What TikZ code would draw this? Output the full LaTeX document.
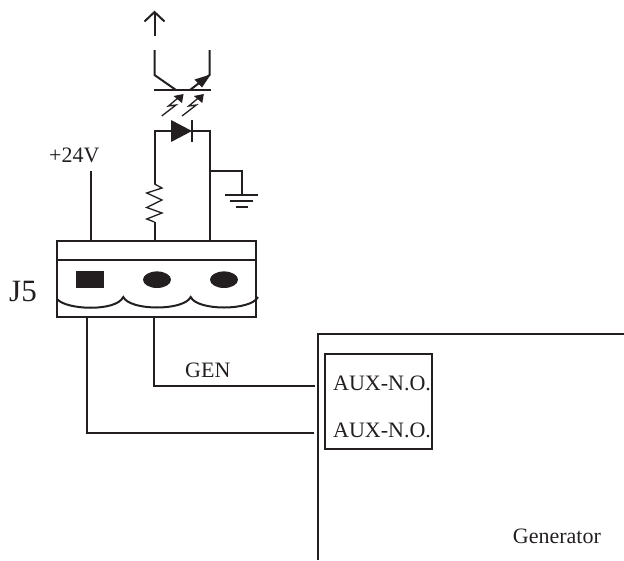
\documentclass[tikz,border=0pt]{standalone}
\usepackage{fontspec}
\setmainfont{Liberation Serif}
\usetikzlibrary{arrows.meta}
\definecolor{ink}{HTML}{231F20}
\tikzset{
  wire/.style={draw=ink,line width=2pt},
  thin wire/.style={draw=ink,line width=1.3pt},
  lab/.style={inner sep=0pt,text=ink,anchor=base west,font=\fontsize{#1}{#1}\selectfont},
  lab/.default=22
}
\begin{document}
\begin{tikzpicture}[x=1pt,y=-1pt]
\useasboundingbox (0,0) rectangle (624,560);
% named points
\coordinate (top) at (154.5,12);
\coordinate (topb) at (154.5,36);
\coordinate (tlu) at (154.5,50);
\coordinate (tlm) at (154.5,75);
\coordinate (tlb) at (176,90);
\coordinate (tru) at (209.5,50);
\coordinate (trm) at (209.5,75);
\coordinate (trb) at (190,90);
\coordinate (dl) at (171,131);
\coordinate (dr) at (192,131);
% output arrow
\draw[wire] (topb) -- (top);
\draw[wire] (144.5,21.5) -- (top) -- (164.5,21.5);
% transistor
\draw[wire] (tlu) -- (tlm) -- (tlb);
\draw[wire] (154,90) -- (210.5,90);
\draw[wire] (tru) -- (trm) -- (trb);
\fill[ink] (210.7,74.5) -- (194.5,79.5) -- (202,87.5) -- cycle;
% light arrows
\foreach \d in {0,20.3}{
  \draw[thin wire] (161.7+\d,116) -- (176+\d,105) -- (168.5+\d,106) -- (178+\d,98);
  \fill[ink] (183.5+\d,94) -- (173.5+\d,96) -- (182+\d,103) -- cycle;
}
% diode
\fill[ink] (171,120) -- (192,131) -- (171,142) -- cycle;
\draw[wire] (192,120) -- (192,142);
\draw[wire] (154.5,184) -- (154.5,131) -- (dl);
\draw[wire] (154.5,222) -- (154.5,241);
\draw[wire] (dr) -- (210,131) -- (210,241);
% resistor
\draw[thin wire,line join=miter] (154.5,184) -- (162,188) -- (146.7,193) -- (162,200) -- (146.7,207.5) -- (162,213) -- (146.7,219) -- (154.5,222);
% +24V
\draw[wire] (90.5,171) -- (90.5,241);
\node[lab=22] (vp) at (49,162.7) {+24V};
% ground
\draw[wire] (210,171) -- (241.5,171) -- (241.5,194.5);
\draw[wire] (225,194.5) -- (258,194.5);
\draw[wire] (230,200.8) -- (253,200.8);
\draw[wire] (235.5,206.8) -- (247.8,206.8);
% connector
\draw[wire] (56.7,241) rectangle (255.7,316.7);
\draw[wire] (56.7,260) -- (255.7,260);
\fill[ink] (76,271) rectangle (103.7,288);
\fill[ink] (157,279.7) ellipse [x radius=14,y radius=8.3];
\fill[ink] (224,279.7) ellipse [x radius=14,y radius=8.3];
\draw[wire] (57,299) .. controls (66,310) and (116,312) .. (123.3,297)
  .. controls (130,311) and (184,311) .. (190.7,297)
  .. controls (197,311) and (251,311) .. (258,297);
\node[lab=31] (j5) at (9,301.7) {J5};
% wires to generator
\draw[wire] (86.7,316.7) -- (86.7,433.3) -- (314,433.3);
\draw[wire] (154.3,316.7) -- (154.3,385.7) -- (315,385.7);
\node[lab=22] (gen) at (185,377.7) {GEN};
% generator
\draw[wire] (624,334) -- (317.7,334) -- (317.7,560);
\draw[wire] (325,353.7) rectangle (432.3,449.3);
\node[lab=22] (a1) at (333,390.7) {AUX-N.O.};
\node[lab=22] (a2) at (333,437.3) {AUX-N.O.};
\node[lab=22] (g) at (512.7,543.3) {Generator};
\end{tikzpicture}
\end{document}
